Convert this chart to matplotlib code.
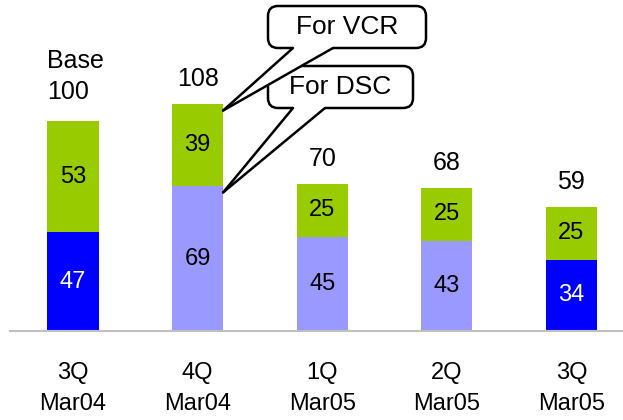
import matplotlib
matplotlib.use("Agg")
import matplotlib.pyplot as plt
from matplotlib.patches import FancyBboxPatch, Polygon
from matplotlib.lines import Line2D

# ---- data ----
categories = ["3Q\nMar04", "4Q\nMar04", "1Q\nMar05", "2Q\nMar05", "3Q\nMar05"]
bottom_vals = [47, 69, 45, 43, 34]
top_vals = [53, 39, 25, 25, 25]
label_prefix = ["Base", "", "", "", ""]
bottom_colors = ["#0000FF", "#9999FF", "#9999FF", "#9999FF", "#0000FF"]
bottom_text_colors = ["white", "black", "black", "black", "white"]
top_color = "#99CC00"
callout_texts = ["For VCR", "For DSC"]

FONT = ["Liberation Sans", "DejaVu Sans"]
plt.rcParams["font.family"] = FONT

W, H = 623, 420
fig = plt.figure(figsize=(W / 100, H / 100), dpi=100)
ax = fig.add_axes([10 / W, (H - 331) / H, 1 - 10 / W, 331 / H])

x = list(range(len(categories)))
bw = 0.41
ax.bar(x, bottom_vals, width=bw, color=bottom_colors, zorder=2)
ax.bar(x, top_vals, width=bw, bottom=bottom_vals, color=top_color, zorder=2)

ax.set_xlim(-63 / 124.6, (W - 73) / 124.6)
ax.set_ylim(0, 331 / 2.1)

for i in x:
    b, t = bottom_vals[i], top_vals[i]
    ax.text(i, b / 2, str(b), ha="center", va="center", fontsize=17,
            color=bottom_text_colors[i], zorder=3)
    ax.text(i, b + t / 2, str(t), ha="center", va="center", fontsize=17,
            color="black", zorder=3)
    total = b + t
    if label_prefix[i]:
        ax.annotate(label_prefix[i] + "\n" + str(total), xy=(i - bw / 2, total),
                    xytext=(0, 16), textcoords="offset points", ha="left",
                    va="baseline", fontsize=18, linespacing=1.35,
                    multialignment="left")
    else:
        ax.annotate(str(total), xy=(i, total), xytext=(0, 13),
                    textcoords="offset points", ha="center", va="baseline",
                    fontsize=18)

# axes styling
for s in ["top", "right", "left"]:
    ax.spines[s].set_visible(False)
ax.spines["bottom"].set_color("#C0C0C0")
ax.spines["bottom"].set_linewidth(1.5)
ax.set_yticks([])
ax.set_xticks(x)
ax.set_xticklabels(categories, fontsize=17, linespacing=1.55)
ax.tick_params(axis="x", length=0, pad=22)

# ---- callouts (drawn in figure pixel coordinates, y from top) ----
def px(xp, yp):
    return (xp / 100.0, (H - yp) / 100.0)

inv = fig.dpi_scale_trans.inverted()

def tip_of(xd, yd):
    return tuple(inv.transform(ax.transData.transform((xd, yd))))

def callout(text, box, base, tip):
    x0, y0, x1, y1 = box  # pixel, y from top
    bl = px(x0, y1)
    tr = px(x1, y0)
    r = 0.1
    patch = FancyBboxPatch((bl[0] + r, bl[1] + r), tr[0] - bl[0] - 2 * r,
                           tr[1] - bl[1] - 2 * r,
                           boxstyle=f"round,pad={r},rounding_size={r}",
                           transform=fig.dpi_scale_trans, facecolor="white",
                           edgecolor="black", linewidth=1.8, zorder=10)
    fig.add_artist(patch)
    b0 = px(base[0], y1)
    b1 = px(base[1], y1)
    poly = Polygon([(b0[0], b0[1] + 0.02), b0, tip, b1, (b1[0], b1[1] + 0.02)],
                   closed=True, transform=fig.dpi_scale_trans,
                   facecolor="white", edgecolor="none", zorder=10.1)
    fig.add_artist(poly)
    for b in (b0, b1):
        fig.add_artist(Line2D([b[0], tip[0]], [b[1], tip[1]],
                              transform=fig.dpi_scale_trans, color="black",
                              linewidth=1.8, zorder=10.2,
                              solid_capstyle="round"))
    c = px((x0 + x1) / 2, (y0 + y1) / 2)
    fig.text(c[0] / (W / 100), c[1] / (H / 100), text, ha="center",
             va="center", fontsize=19, zorder=10.3)

i2 = 1
callout(callout_texts[0], (268, 6, 426, 48), (293, 333),
        tip_of(i2 + bw / 2, bottom_vals[i2] + top_vals[i2] - 3))
callout(callout_texts[1], (268, 66, 413, 108), (293, 325),
        tip_of(i2 + bw / 2, bottom_vals[i2] - 3))

fig.savefig("out.png", dpi=100)
